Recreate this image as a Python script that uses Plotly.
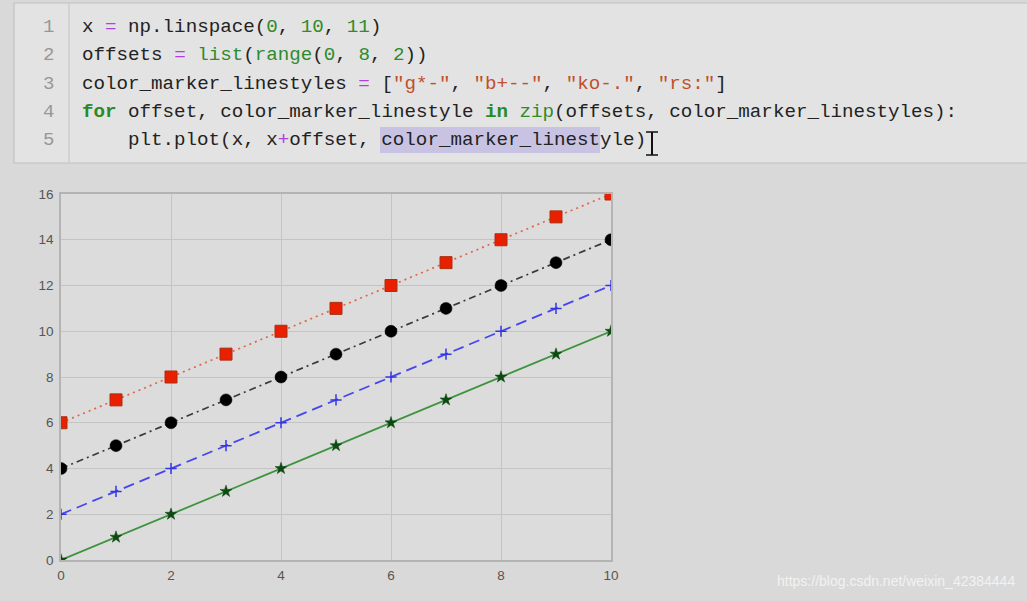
import numpy as np
import plotly.graph_objects as go

# ---- data ----
x_vals = [0, 1, 2, 3, 4, 5, 6, 7, 8, 9, 10]
offsets = [0, 2, 4, 6]
series_names = ["g*-", "b+--", "ko-.", "rs:"]
y_green = [0, 1, 2, 3, 4, 5, 6, 7, 8, 9, 10]
y_blue = [2, 3, 4, 5, 6, 7, 8, 9, 10, 11, 12]
y_black = [4, 5, 6, 7, 8, 9, 10, 11, 12, 13, 14]
y_red = [6, 7, 8, 9, 10, 11, 12, 13, 14, 15, 16]
x_ticks = [0, 2, 4, 6, 8, 10]
y_ticks = [0, 2, 4, 6, 8, 10, 12, 14, 16]

W, H = 1027, 601
L, R, T, B = 61, 611, 194, 560


def px(v):
    return (v - L) / (R - L)


def py(v):
    return (B - v) / (B - T)


fig = go.Figure()

fig.add_trace(go.Scatter(
    x=x_vals, y=y_green, mode="lines+markers", name=series_names[0],
    line=dict(color="#3f933f", width=1.8, dash="solid"),
    marker=dict(symbol="star", size=9, color="#0d4a12",
                line=dict(color="#0d4a12", width=0.5))))
fig.add_trace(go.Scatter(
    x=x_vals, y=y_blue, mode="lines+markers", name=series_names[1],
    line=dict(color="#4646ee", width=1.8, dash="11px,6px"),
    marker=dict(symbol="cross-thin", size=8, color="#3434e6",
                line=dict(color="#3434e6", width=1.5))))
fig.add_trace(go.Scatter(
    x=x_vals, y=y_black, mode="lines+markers", name=series_names[2],
    line=dict(color="#3a3a3a", width=1.7, dash="7px,4px,2px,4px"),
    marker=dict(symbol="circle", size=12, color="#000000",
                line=dict(color="#000000", width=0.5))))
fig.add_trace(go.Scatter(
    x=x_vals, y=y_red, mode="lines+markers", name=series_names[3],
    line=dict(color="#e0664a", width=1.7, dash="2px,4px"),
    marker=dict(symbol="square", size=12, color="#e82000",
                line=dict(color="#a83010", width=1))))

page_bg = "#d9d9d9"
fig.update_layout(
    width=W, height=H,
    margin=dict(l=L, r=W - R, t=T, b=H - B, pad=0),
    paper_bgcolor=page_bg,
    plot_bgcolor="#dcdcdc",
    showlegend=False,
    font=dict(family="Liberation Sans, Arial, sans-serif", size=13, color="#5a5a5a"),
)
axis_common = dict(
    showgrid=True, gridcolor="#c4c4c4", gridwidth=1,
    zeroline=False, showline=True, linecolor="#b4b4b4", linewidth=1.5,
    mirror=True, ticks="", tickfont=dict(size=13.5, color="#555555"),
)
fig.update_xaxes(range=[0, 10], tickvals=x_ticks, ticklabelstandoff=2, **axis_common)
fig.update_yaxes(range=[0, 16], tickvals=y_ticks, ticklabelstandoff=3, **axis_common)

# ---- code cell ----
shapes = []
shapes.append(dict(type="rect", xref="paper", yref="paper",
                   x0=px(14), x1=px(1040), y0=py(163), y1=py(3),
                   fillcolor="#e3e3e3", line=dict(color="#c2c2c2", width=1.2), layer="below"))
shapes.append(dict(type="line", xref="paper", yref="paper",
                   x0=px(69), x1=px(69), y0=py(163), y1=py(3),
                   line=dict(color="#c8c8c8", width=1.2)))
# selection highlight
shapes.append(dict(type="rect", xref="paper", yref="paper",
                   x0=px(380), x1=px(600), y0=py(153), y1=py(127),
                   fillcolor="#c9c3e3", line=dict(width=0), layer="below"))
# text cursor (I-beam)
shapes.append(dict(type="line", xref="paper", yref="paper",
                   x0=px(652), x1=px(652), y0=py(155), y1=py(132),
                   line=dict(color="#111111", width=2)))
shapes.append(dict(type="line", xref="paper", yref="paper",
                   x0=px(646), x1=px(658), y0=py(155), y1=py(155),
                   line=dict(color="#111111", width=1.5)))
shapes.append(dict(type="line", xref="paper", yref="paper",
                   x0=px(646), x1=px(658), y0=py(132), y1=py(132),
                   line=dict(color="#111111", width=1.5)))
fig.update_layout(shapes=shapes)

K = "#222222"   # default
OP = "#b040e0"  # operator
NUM = "#2e8b2e" # numbers / builtins
STR = "#c0502a" # strings
KW = "#2a8a2a"  # keywords


def s(t, c, bold=False):
    t = t.replace("<", "&lt;")
    if bold:
        return f"<span style='color:{c}'><b>{t}</b></span>"
    return f"<span style='color:{c}'>{t}</span>"


code_lines = [
    (80, s("x ", K) + s("=", OP) + s(" np.linspace(", K) + s("0", NUM) + s(", ", K)
     + s("10", NUM) + s(", ", K) + s("11", NUM) + s(")", K)),
    (80, s("offsets ", K) + s("=", OP) + s(" ", K) + s("list", NUM) + s("(", K)
     + s("range", NUM) + s("(", K) + s("0", NUM) + s(", ", K) + s("8", NUM)
     + s(", ", K) + s("2", NUM) + s("))", K)),
    (80, s("color_marker_linestyles ", K) + s("=", OP) + s(" [", K) + s('"g*-"', STR)
     + s(", ", K) + s('"b+--"', STR) + s(", ", K) + s('"ko-."', STR) + s(", ", K)
     + s('"rs:"', STR) + s("]", K)),
    (80, s("for", KW, True) + s(" offset, color_marker_linestyle ", K) + s("in", KW, True)
     + s(" ", K) + s("zip", NUM) + s("(offsets, color_marker_linestyles):", K)),
    (126, s("plt.plot(x, x", K) + s("+", OP) + s("offset, color_marker_linestyle)", K)),
]
line_y = [27, 55, 84, 112, 140]

annotations = []
for i, ((x0, txt), yy) in enumerate(zip(code_lines, line_y)):
    annotations.append(dict(
        xref="paper", yref="paper", x=px(x0), y=py(yy), xanchor="left", yanchor="middle",
        text=txt, showarrow=False,
        font=dict(family="Liberation Mono, monospace", size=19.2, color=K)))
    annotations.append(dict(
        xref="paper", yref="paper", x=px(56), y=py(yy), xanchor="right", yanchor="middle",
        text=str(i + 1), showarrow=False,
        font=dict(family="Liberation Mono, monospace", size=19, color="#979797")))

annotations.append(dict(
    xref="paper", yref="paper", x=px(1017), y=py(581), xanchor="right", yanchor="middle",
    text="https://blog.csdn.net/weixin_42384444", showarrow=False,
    font=dict(family="Liberation Sans, Arial, sans-serif", size=14, color="#f2f2f2")))
fig.update_layout(annotations=annotations)

fig.write_html(
    "out.html",
    config={"displayModeBar": False},
    post_script="document.body.style.margin='0';document.body.style.background='#d9d9d9';",
)
